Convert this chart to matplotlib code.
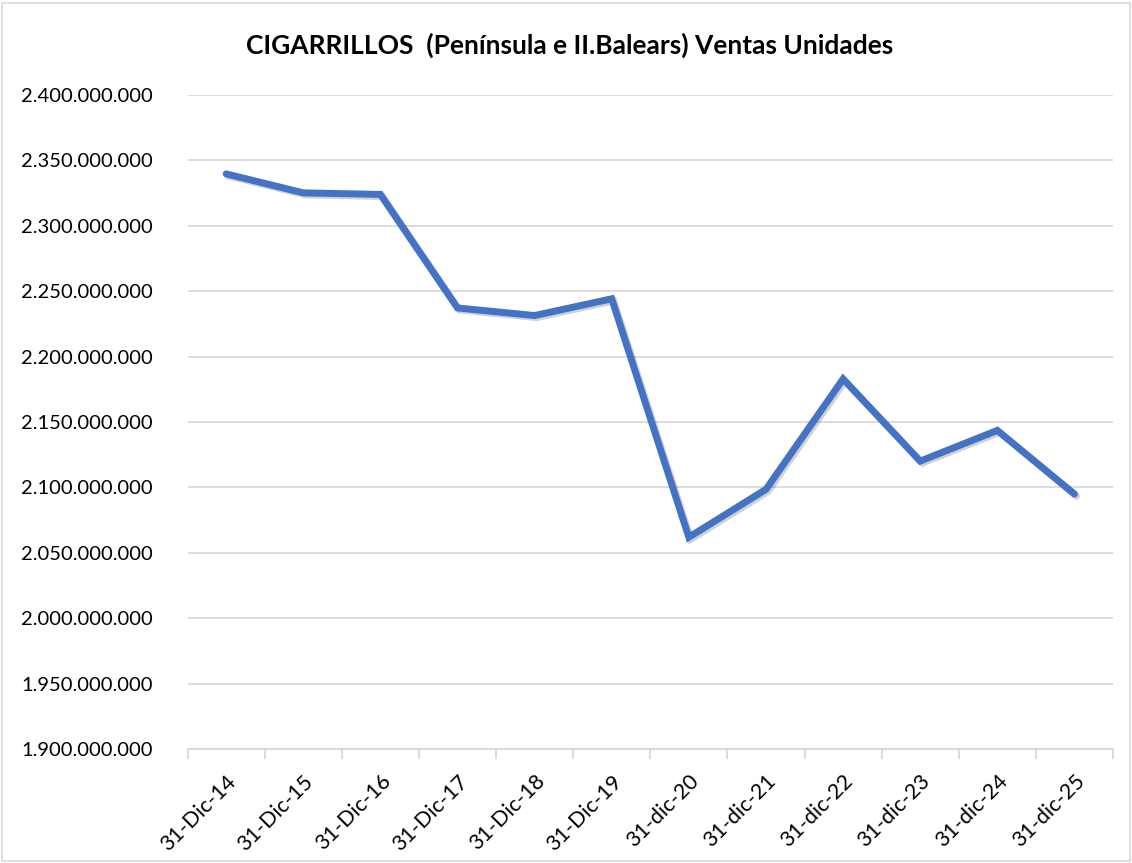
import matplotlib
matplotlib.use("Agg")
import matplotlib.pyplot as plt
import matplotlib.patheffects as pe
from matplotlib.ticker import FuncFormatter, FixedLocator
from matplotlib.patches import Rectangle

categories = ["31-Dic-14", "31-Dic-15", "31-Dic-16", "31-Dic-17", "31-Dic-18", "31-Dic-19",
              "31-dic-20", "31-dic-21", "31-dic-22", "31-dic-23", "31-dic-24", "31-dic-25"]
ventas = [2339700000, 2325200000, 2324000000, 2237200000, 2231400000, 2244200000,
          2061900000, 2098500000, 2182900000, 2120100000, 2143600000, 2094900000]
title = "CIGARRILLOS  (Península e II.Balears) Ventas Unidades"

plt.rcParams['font.family'] = ['Lato', 'DejaVu Sans']

fig = plt.figure(figsize=(11.32, 8.63), dpi=100)
fig.patches.append(Rectangle((0.002, 0.002), 0.996, 0.995, transform=fig.transFigure,
                             fill=False, edgecolor='#D9D9D9', linewidth=1.2))
ax = fig.add_axes([0.1657, 0.1321, 0.8175, 0.7578])

x = list(range(len(categories)))
ax.plot(x, ventas, color='#4472C4', linewidth=5.0, solid_joinstyle='miter', solid_capstyle='round',
        path_effects=[pe.SimpleLineShadow(offset=(1.5, -1.5), shadow_color='black', alpha=0.18),
                      pe.Normal()], zorder=3)

ax.set_xlim(-0.5, len(categories) - 0.5)
ax.set_ylim(1.9e9, 2.4e9)
ax.set_yticks([1.9e9 + i * 5e7 for i in range(11)])
ax.yaxis.set_major_formatter(FuncFormatter(lambda v, p: f"{int(round(v)):,}".replace(",", ".")))
ax.grid(axis='y', color='#D9D9D9', linewidth=1.3)
ax.set_axisbelow(True)

ax.set_xticks(x)
ax.set_xticklabels(categories, rotation=45, ha='right', rotation_mode='anchor')
ax.xaxis.set_minor_locator(FixedLocator([i - 0.5 for i in range(len(categories) + 1)]))
ax.tick_params(axis='x', which='major', length=0, pad=16, labelsize=15.5, labelcolor='#000000')
ax.tick_params(axis='x', which='minor', length=7, width=1.3, color='#D9D9D9')
ax.tick_params(axis='y', length=0, pad=25, labelsize=14.5, labelcolor='#000000')

for s in ['left', 'right', 'top']:
    ax.spines[s].set_visible(False)
ax.spines['bottom'].set_color('#D9D9D9')
ax.spines['bottom'].set_linewidth(1.3)

fig.text(0.503, 0.948, title, ha='center', va='center', fontsize=19, fontweight='bold')

fig.savefig("out.png", dpi=100)
